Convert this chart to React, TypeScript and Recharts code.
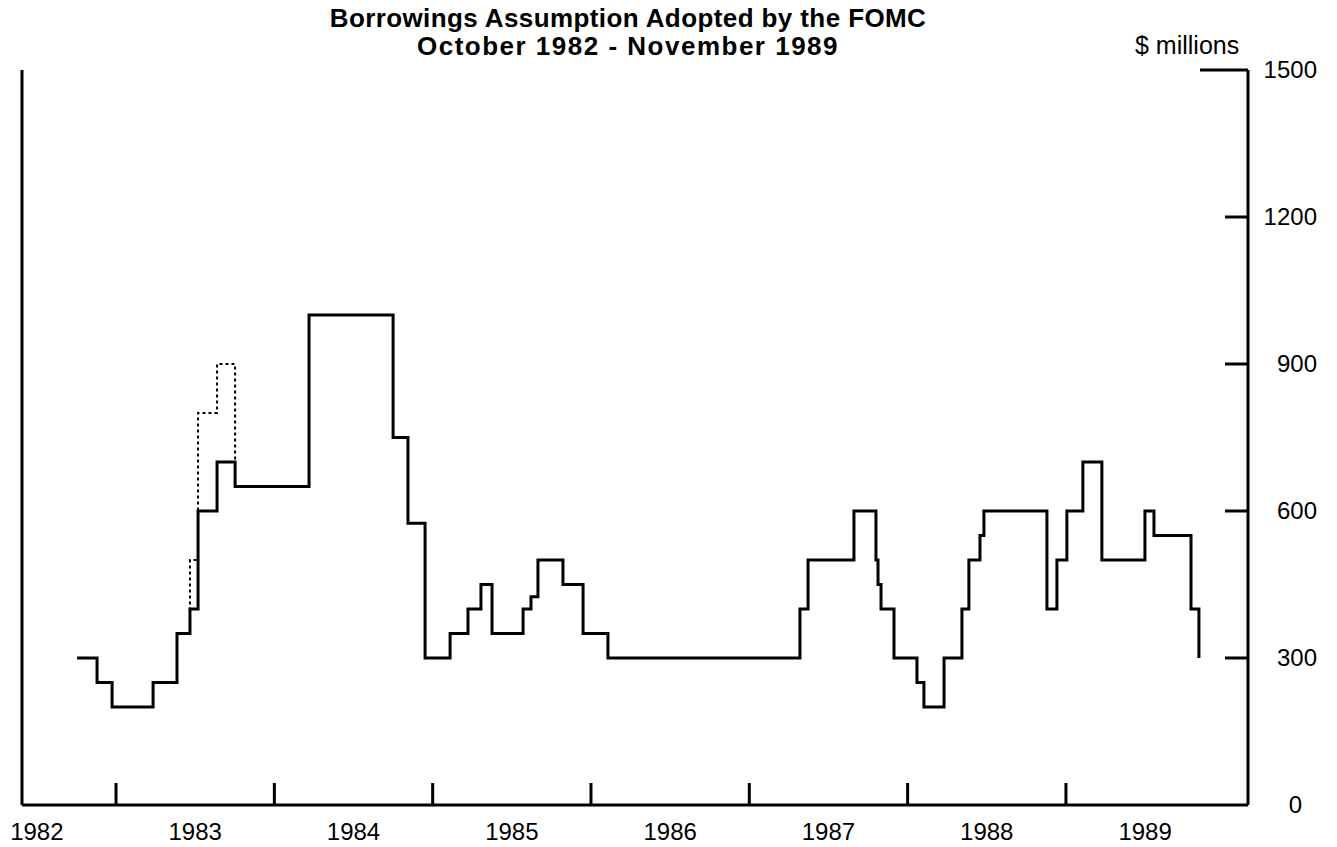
import { LineChart, Line, XAxis, YAxis } from "recharts";

// change points of the adopted borrowings assumption (decimal year, $ millions)
const solidYears = [
  1982.754, 1982.88, 1982.975, 1983.234, 1983.385, 1983.467, 1983.518, 1983.638,
  1983.752, 1984.219, 1984.75, 1984.844, 1984.952, 1985.11, 1985.223, 1985.305,
  1985.375, 1985.571, 1985.621, 1985.665, 1985.823, 1985.95, 1986.107, 1987.32,
  1987.371, 1987.661, 1987.8, 1987.813, 1987.832, 1987.914, 1988.059, 1988.103,
  1988.23, 1988.343, 1988.387, 1988.457, 1988.482, 1988.88, 1988.943, 1989.006,
  1989.107, 1989.227, 1989.499, 1989.556, 1989.79, 1989.84,
];
const solidValues = [
  300, 250, 200, 250, 350, 400, 600, 700,
  650, 1000, 750, 575, 300, 350, 400, 450,
  350, 400, 425, 500, 450, 350, 300, 400,
  500, 600, 500, 450, 400, 300, 250, 200,
  300, 400, 500, 550, 600, 400, 500, 600,
  700, 500, 600, 550, 400, 300,
];

// dotted alternative path in 1983
const dottedYears = [1983.385, 1983.467, 1983.518, 1983.638, 1983.752];
const dottedValues = [350, 500, 800, 900, 650];

const yearTicks = [1983, 1984, 1985, 1986, 1987, 1988, 1989];
const yearLabels = [1982.5, 1983.5, 1984.5, 1985.5, 1986.5, 1987.5, 1988.5, 1989.5];
const valueTicks = [0, 300, 600, 900, 1200, 1500];

const solidData = solidYears.map((year, i) => ({ year, value: solidValues[i] }));
const dottedData = dottedYears.map((year, i) => ({ year, value: dottedValues[i] }));
const xTicks = [...yearLabels, ...yearTicks].sort((a, b) => a - b);

const FONT = '"Liberation Sans", Arial, Helvetica, sans-serif';

function XTick(props: any) {
  const { x, y, payload } = props;
  const v = payload.value;
  if (Number.isInteger(v)) {
    return <line x1={x} x2={x} y1={y} y2={y - 22} stroke="#000" strokeWidth={3} />;
  }
  return (
    <text x={x} y={y + 35} textAnchor="middle" fontSize={24} fontFamily={FONT} fill="#000">
      {Math.floor(v)}
    </text>
  );
}

function LeftTick(props: any) {
  const { x, y, payload } = props;
  const v = payload.value;
  if (v === 0) return <g />;
  const len = v === 1500 ? 46 : 23;
  return <line x1={x} x2={x + len} y1={y} y2={y} stroke="#000" strokeWidth={3} />;
}

function RightTick(props: any) {
  const { x, y, payload } = props;
  const v = payload.value;
  const len = v === 0 ? 0 : v === 1500 ? 48 : 23;
  return (
    <g>
      {len > 0 && <line x1={x - len} x2={x} y1={y} y2={y} stroke="#000" strokeWidth={3} />}
      <text
        x={v === 0 ? x + 54 : x + 69}
        y={y}
        dy="0.35em"
        textAnchor="end"
        fontSize={24}
        fontFamily={FONT}
        fill="#000"
      >
        {v}
      </text>
    </g>
  );
}

const titleStyle: any = {
  position: "absolute",
  left: 0,
  width: 1256,
  textAlign: "center",
  fontWeight: "bold",
  fontSize: 26,
  lineHeight: "26px",
  color: "#000",
  whiteSpace: "nowrap",
};

export default function App() {
  return (
    <div
      style={{
        position: "absolute",
        left: 0,
        top: 0,
        width: 1337,
        height: 847,
        background: "#fff",
        fontFamily: FONT,
      }}
    >
      <div style={{ ...titleStyle, top: 5, letterSpacing: "0.4px" }}>
        Borrowings Assumption Adopted by the FOMC
      </div>
      <div style={{ ...titleStyle, top: 33, letterSpacing: "1.5px" }}>
        October 1982 - November 1989
      </div>
      <div
        style={{
          position: "absolute",
          left: 1135,
          top: 31,
          fontSize: 25,
          color: "#000",
          whiteSpace: "nowrap",
        }}
      >
        $ millions
      </div>
      <LineChart
        width={1337}
        height={847}
        margin={{ top: 70, right: 29, bottom: 12, left: 12 }}
        style={{ position: "absolute", left: 0, top: 0 }}
      >
        <XAxis
          dataKey="year"
          type="number"
          domain={[1982.406, 1990.15]}
          ticks={xTicks}
          interval={0}
          allowDataOverflow
          height={30}
          tickSize={0}
          tickMargin={0}
          tickLine={false}
          tick={<XTick />}
          axisLine={{ stroke: "#000", strokeWidth: 3 }}
        />
        <YAxis
          yAxisId="left"
          orientation="left"
          type="number"
          domain={[0, 1500]}
          ticks={valueTicks}
          interval={0}
          width={10}
          tickSize={0}
          tickMargin={0}
          tickLine={false}
          tick={<LeftTick />}
          axisLine={{ stroke: "#000", strokeWidth: 3 }}
        />
        <YAxis
          yAxisId="right"
          orientation="right"
          type="number"
          domain={[0, 1500]}
          ticks={valueTicks}
          interval={0}
          width={60}
          tickSize={0}
          tickMargin={0}
          tickLine={false}
          tick={<RightTick />}
          axisLine={{ stroke: "#000", strokeWidth: 3 }}
        />
        <Line
          yAxisId="right"
          data={dottedData}
          dataKey="value"
          type="stepAfter"
          stroke="#000"
          strokeWidth={2}
          strokeDasharray="3 3"
          dot={false}
          isAnimationActive={false}
        />
        <Line
          yAxisId="right"
          data={solidData}
          dataKey="value"
          type="stepAfter"
          stroke="#000"
          strokeWidth={3}
          dot={false}
          isAnimationActive={false}
        />
      </LineChart>
    </div>
  );
}
